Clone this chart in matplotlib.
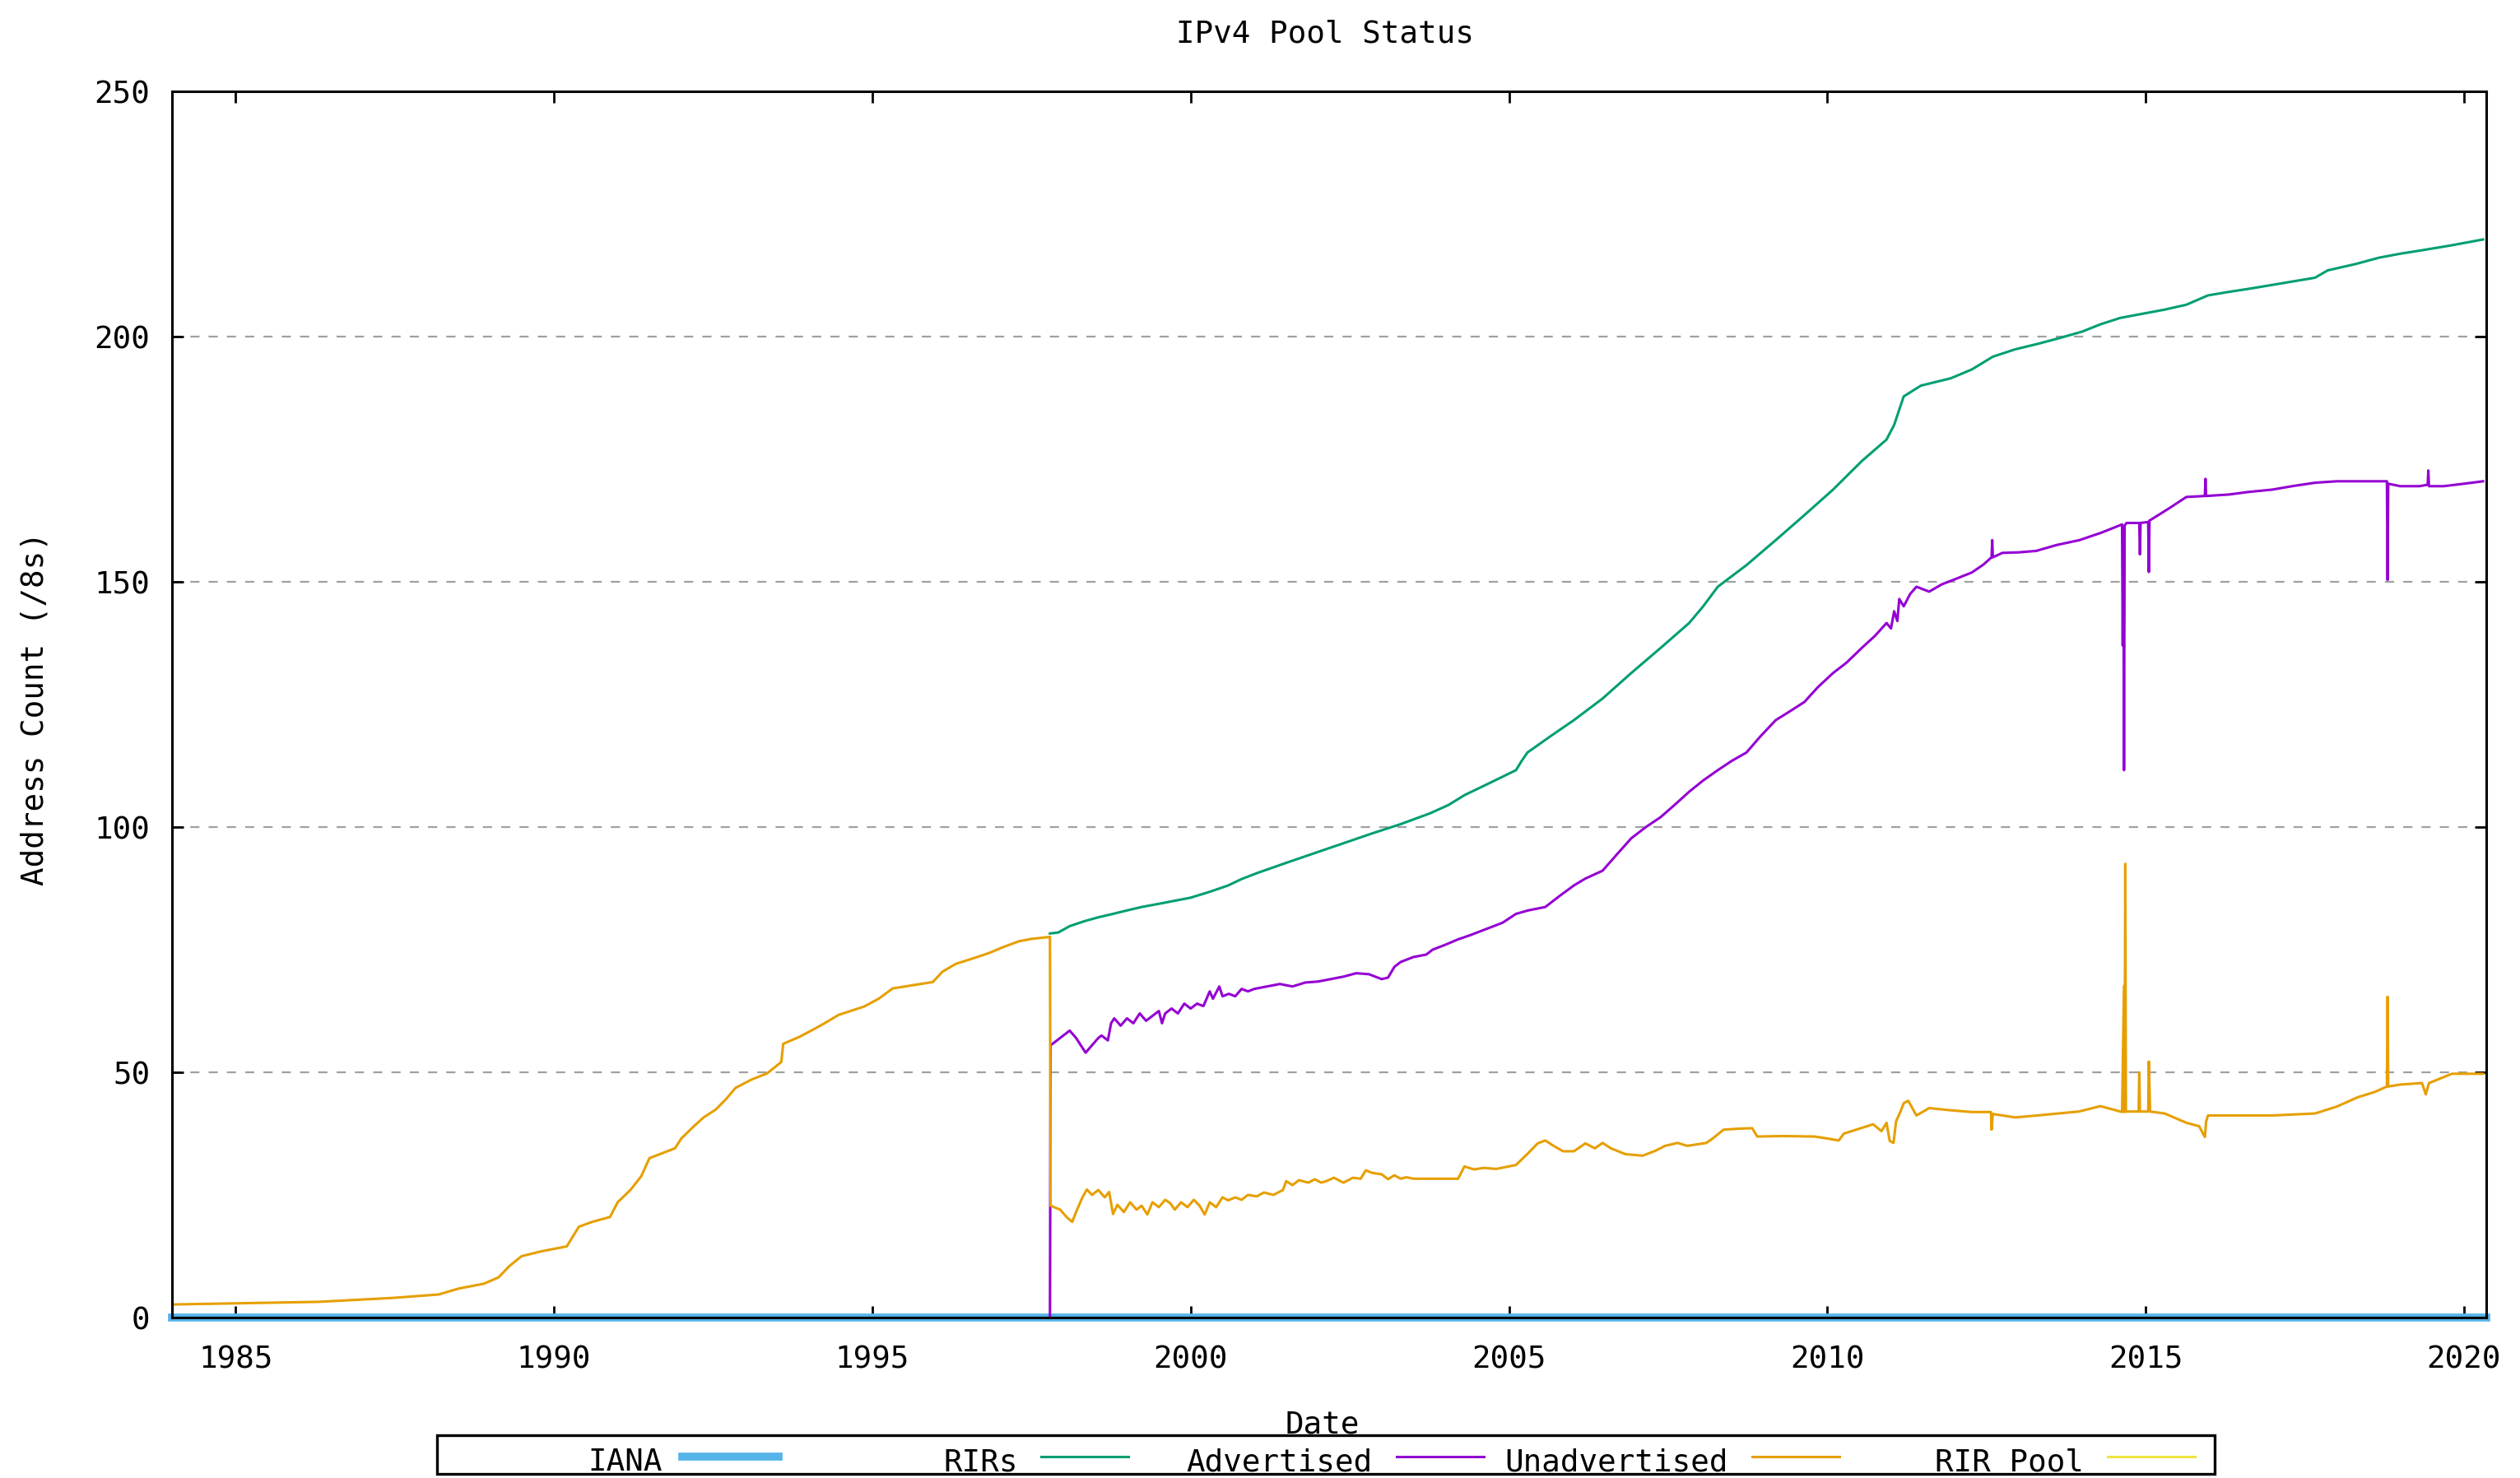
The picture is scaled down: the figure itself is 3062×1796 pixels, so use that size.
import matplotlib
matplotlib.use("Agg")
import matplotlib.pyplot as plt
from matplotlib.lines import Line2D
from matplotlib.patches import Rectangle

plt.rcParams['font.family'] = ['DejaVu Sans Mono']

# ---- data (/8 counts by date, decimal years) ----
iana_years = [1984.0, 2020.35]
iana_values = [0, 0]

rir_pool_years = [1984.0, 2020.35]
rir_pool_values = [0, 0]

rirs_years = [1997.79, 1997.92, 1998.1, 1998.33, 1998.55, 1998.78, 1999.0, 1999.23, 1999.6,
              2000.0, 2000.3, 2000.59, 2000.8, 2001.04, 2001.5, 2001.95, 2002.4, 2002.85,
              2003.3, 2003.76, 2004.05, 2004.3, 2004.7, 2005.11, 2005.2, 2005.29, 2005.65,
              2006.02, 2006.47, 2006.92, 2007.38, 2007.83, 2008.05, 2008.28, 2008.73, 2009.19,
              2009.64, 2010.09, 2010.54, 2010.93, 2011.05, 2011.2, 2011.47, 2011.94, 2012.27,
              2012.6, 2012.95, 2013.3, 2013.62, 2014.0, 2014.29, 2014.6, 2014.97, 2015.3,
              2015.64, 2015.98, 2016.3, 2016.65, 2017.2, 2017.66, 2017.86, 2018.3, 2018.67,
              2019.0, 2019.34, 2019.8, 2020.3]
rirs_values = [78.3, 78.5, 79.8, 80.8, 81.6, 82.3, 83.0, 83.7, 84.6,
               85.6, 86.8, 88.1, 89.4, 90.6, 92.7, 94.7, 96.7, 98.7,
               100.6, 102.8, 104.5, 106.5, 109.0, 111.6, 113.5, 115.2, 118.5,
               121.8, 126.2, 131.4, 136.5, 141.6, 145.0, 149.0, 153.4, 158.5,
               163.6, 168.8, 174.6, 179.0, 182.0, 187.8, 190.0, 191.5, 193.3,
               195.9, 197.4, 198.5, 199.6, 201.0, 202.5, 203.8, 204.7, 205.5,
               206.5, 208.4, 209.1, 209.8, 211.0, 212.0, 213.5, 214.8, 216.1,
               216.9, 217.6, 218.6, 219.8]

adv_years = [1997.79, 1997.80, 1997.9, 1998.0, 1998.1, 1998.2, 1998.3, 1998.35, 1998.45,
             1998.55, 1998.6, 1998.7, 1998.75, 1998.8, 1998.9, 1999.0, 1999.1, 1999.2,
             1999.3, 1999.4, 1999.5, 1999.55, 1999.6, 1999.7, 1999.8, 1999.9, 2000.0,
             2000.1, 2000.2, 2000.3, 2000.35, 2000.45, 2000.5, 2000.6, 2000.7, 2000.8,
             2000.9, 2001.0, 2001.2, 2001.4, 2001.6, 2001.8, 2002.0, 2002.2, 2002.4,
             2002.6, 2002.8, 2003.0, 2003.1, 2003.2, 2003.3, 2003.5, 2003.7, 2003.8,
             2004.0, 2004.2, 2004.4, 2004.66, 2004.9, 2005.11, 2005.3, 2005.57, 2005.8,
             2006.02, 2006.2, 2006.47, 2006.7, 2006.92, 2007.15, 2007.38, 2007.6, 2007.83,
             2008.05, 2008.28, 2008.5, 2008.73, 2008.95, 2009.19, 2009.4, 2009.64, 2009.85,
             2010.09, 2010.3, 2010.54, 2010.75, 2010.93, 2011.0, 2011.05, 2011.1, 2011.13,
             2011.2, 2011.3, 2011.4, 2011.6, 2011.8, 2012.0, 2012.27, 2012.45, 2012.58,
             2012.59, 2012.6, 2012.75, 2013.0, 2013.28, 2013.6, 2013.96, 2014.3, 2014.63,
             2014.64, 2014.65, 2014.66, 2014.67, 2014.7, 2014.9, 2014.91, 2014.92, 2015.04,
             2015.05, 2015.06, 2015.1, 2015.37, 2015.64, 2015.93, 2015.94, 2015.95, 2016.31,
             2016.6, 2016.99, 2017.3, 2017.66, 2018.0, 2018.33, 2018.79, 2018.8, 2018.81,
             2019.0, 2019.3, 2019.43, 2019.44, 2019.45, 2019.68, 2020.0, 2020.3]
adv_values = [0, 55.5, 56.5, 57.5, 58.5, 57.0, 55.0, 54.0, 55.5,
              57.0, 57.5, 56.5, 60.0, 61.0, 59.5, 61.0, 60.0, 62.0,
              60.5, 61.5, 62.5, 60.0, 62.0, 63.0, 62.0, 64.0, 63.0,
              64.0, 63.5, 66.5, 65.0, 67.5, 65.5, 66.0, 65.5, 67.0,
              66.5, 67.0, 67.5, 68.0, 67.5, 68.3, 68.5, 69.0, 69.5,
              70.2, 70.0, 69.0, 69.3, 71.5, 72.5, 73.5, 74.0, 75.0,
              76.0, 77.1, 78.0, 79.3, 80.5, 82.3, 83.0, 83.7, 86.0,
              88.1, 89.5, 91.1, 94.5, 97.7, 100.0, 102.0, 104.5, 107.2,
              109.5, 111.6, 113.5, 115.2, 118.5, 121.8, 123.5, 125.5, 128.5,
              131.4, 133.5, 136.5, 139.0, 141.6, 140.5, 144.0, 142.0, 146.5,
              145.0, 147.5, 149.0, 148.0, 149.5, 150.5, 151.9, 153.5, 155.0,
              158.5, 155.0, 155.9, 156.0, 156.3, 157.5, 158.5, 160.0, 161.7,
              137.0, 161.0, 111.6, 161.5, 162.0, 162.0, 155.6, 162.0, 162.2,
              152.0, 162.5, 162.8, 165.0, 167.3, 167.5, 171.0, 167.5, 167.8,
              168.3, 168.8, 169.5, 170.2, 170.5, 170.5, 170.5, 150.4, 170.0,
              169.5, 169.5, 169.8, 172.7, 169.5, 169.5, 170.0, 170.5]

unadv_years = [1984.0, 1986.3, 1987.47, 1988.19, 1988.5, 1988.9, 1989.13, 1989.3, 1989.49,
               1989.8, 1990.2, 1990.39, 1990.6, 1990.88, 1991.0, 1991.2, 1991.37, 1991.5,
               1991.7, 1991.9, 1992.0, 1992.18, 1992.35, 1992.54, 1992.7, 1992.85, 1993.1,
               1993.35, 1993.57, 1993.6, 1993.85, 1994.07, 1994.25, 1994.47, 1994.87, 1995.1,
               1995.32, 1995.95, 1996.1, 1996.31, 1996.6, 1996.85, 1997.05, 1997.3, 1997.5,
               1997.79,
               1997.8, 1997.95, 1998.05, 1998.14, 1998.2, 1998.3, 1998.37, 1998.45, 1998.55,
               1998.65, 1998.72, 1998.78, 1998.85, 1998.95, 1999.05, 1999.15, 1999.23, 1999.32,
               1999.4, 1999.5, 1999.6, 1999.68, 1999.75, 1999.85, 1999.95, 2000.05, 2000.14,
               2000.22, 2000.3, 2000.4, 2000.5, 2000.59, 2000.7, 2000.8, 2000.9, 2001.04,
               2001.15, 2001.3, 2001.45, 2001.5, 2001.6, 2001.7, 2001.85, 2001.95, 2002.05,
               2002.13, 2002.25, 2002.4, 2002.55, 2002.67, 2002.75, 2002.85, 2003.0, 2003.1,
               2003.2, 2003.3, 2003.39, 2003.5, 2004.2, 2004.3, 2004.45, 2004.6, 2004.8,
               2005.11, 2005.3, 2005.45, 2005.57, 2005.7, 2005.85, 2006.02, 2006.2, 2006.35,
               2006.47, 2006.6, 2006.83, 2007.1, 2007.3, 2007.45, 2007.65, 2007.8, 2008.1,
               2008.2, 2008.37, 2008.6, 2008.82, 2008.9, 2009.3, 2009.8, 2010.0, 2010.18,
               2010.26, 2010.5, 2010.72, 2010.85, 2010.93, 2010.98, 2011.04, 2011.08, 2011.15,
               2011.2, 2011.27, 2011.4, 2011.6, 2011.9, 2012.27, 2012.57, 2012.58, 2012.6,
               2012.95, 2013.3, 2013.62, 2013.95, 2014.29, 2014.63, 2014.66, 2014.67, 2014.68,
               2014.69, 2014.89, 2014.9, 2014.91, 2015.04, 2015.05, 2015.07, 2015.3, 2015.64,
               2015.84, 2015.93, 2015.95, 2015.98, 2016.5, 2016.99, 2017.66, 2018.0, 2018.33,
               2018.6, 2018.79, 2018.8, 2018.81, 2019.0, 2019.34, 2019.4, 2019.45, 2019.81,
               2020.3]
unadv_values = [2.66, 3.2, 4.0, 4.7, 5.9, 6.9, 8.2, 10.5, 12.5,
                13.5, 14.5, 18.5, 19.5, 20.5, 23.5, 26.0, 28.8, 32.5,
                33.5, 34.5, 36.5, 38.8, 40.8, 42.4, 44.5, 46.8, 48.5,
                49.8, 52.1, 55.8, 57.2, 58.7, 60.0, 61.7, 63.4, 65.0,
                67.1, 68.4, 70.5, 72.1, 73.3, 74.4, 75.5, 76.7, 77.2,
                77.6,
                22.8, 22.0, 20.5, 19.5, 21.5, 24.5, 26.1, 25.0, 26.0,
                24.5, 25.6, 21.1, 23.0, 21.5, 23.5, 22.0, 22.8, 21.0,
                23.5, 22.5, 24.0, 23.3, 22.0, 23.5, 22.5, 24.0, 22.8,
                21.0, 23.5, 22.5, 24.5, 23.9, 24.5, 24.0, 25.0, 24.7,
                25.5, 25.0, 26.0, 27.8, 27.0, 28.0, 27.5, 28.2, 27.5,
                27.8, 28.5, 27.5, 28.5, 28.3, 30.0, 29.5, 29.2, 28.2,
                29.0, 28.3, 28.6, 28.3, 28.3, 30.8, 30.2, 30.5, 30.3,
                31.1, 33.5, 35.5, 36.1, 35.0, 33.9, 33.9, 35.5, 34.5,
                35.6, 34.5, 33.3, 33.0, 34.0, 35.0, 35.6, 35.0, 35.6,
                36.5, 38.3, 38.5, 38.6, 36.9, 37.0, 36.9, 36.5, 36.1,
                37.5, 38.5, 39.4, 38.0, 39.7, 36.0, 35.6, 40.0, 42.0,
                43.7, 44.2, 41.2, 42.7, 42.3, 41.9, 41.9, 38.3, 41.5,
                40.8, 41.2, 41.6, 42.0, 43.1, 41.9, 67.6, 41.9, 92.5,
                42.0, 42.0, 50.0, 42.0, 42.0, 52.2, 42.0, 41.6, 39.7,
                39.0, 36.8, 40.0, 41.2, 41.2, 41.2, 41.6, 43.0, 44.9,
                46.0, 47.1, 65.4, 47.1, 47.5, 47.8, 45.5, 47.8, 49.7,
                49.7]

x_ticks = [1985, 1990, 1995, 2000, 2005, 2010, 2015, 2020]
y_ticks = [0, 50, 100, 150, 200, 250]

C_IANA = '#56b4e9'
C_RIRS = '#009e73'
C_ADV = '#9400d3'
C_UNADV = '#e69f00'
C_POOL = '#f0e442'

W, H = 3062, 1796
fig = plt.figure(figsize=(W / 100, H / 100), dpi=100)
fig.patch.set_facecolor('white')
ax = fig.add_axes([209 / W, 1 - 1601 / H, (3021 - 209) / W, (1601 - 111) / H])

FS = 27
lw = 2.2

ax.plot(rir_pool_years, rir_pool_values, color=C_POOL, lw=lw, zorder=1.8, clip_on=False)
ax.plot(iana_years, iana_values, color=C_IANA, lw=7, zorder=1.9, clip_on=False)
ax.plot(rirs_years, rirs_values, color=C_RIRS, lw=lw, zorder=2)
ax.plot(adv_years, adv_values, color=C_ADV, lw=lw, zorder=2.1)
ax.plot(unadv_years, unadv_values, color=C_UNADV, lw=lw, zorder=2.2)

ax.set_xlim(1984.0, 2020.35)
ax.set_ylim(0, 250)
ax.set_xticks(x_ticks)
ax.set_yticks(y_ticks)
ax.tick_params(axis='both', direction='in', length=10, width=2, labelsize=FS,
               top=True, right=True)
ax.tick_params(axis='x', pad=24)
ax.tick_params(axis='y', pad=19)
for s in ax.spines.values():
    s.set_linewidth(2.2)
    s.set_color('black')
    s.set_zorder(3)

for v in y_ticks[1:-1]:
    ax.axhline(v, color='#a0a0a0', lw=1.6, linestyle=(0, (5, 5)), zorder=1)

fig.text(1610 / W, 1 - 52 / H, 'IPv4 Pool Status', ha='center', va='baseline', fontsize=FS)
fig.text(43 / W, 1 - 861 / H, 'Address Count (/8s)', ha='center', va='center',
         rotation=90, fontsize=FS)
fig.text(1607 / W, 1 - 1741 / H, 'Date', ha='center', va='baseline', fontsize=FS)

# legend strip along the bottom
fig.add_artist(Rectangle((531 / W, 1 - 1791 / H), (2691 - 531) / W, (1791 - 1744) / H,
                         transform=fig.transFigure, fill=False, edgecolor='black', lw=2.4))
entries = [('IANA', C_IANA, 7, 805, 829, 946),
           ('RIRs', C_RIRS, lw, 1237, 1265, 1371),
           ('Advertised', C_ADV, lw, 1668, 1697, 1803),
           ('Unadvertised', C_UNADV, lw, 2100, 2129, 2235),
           ('RIR Pool', C_POOL, lw, 2532, 2561, 2667)]
ly = 1 - 1770 / H
for label, col, w, tx, x0, x1 in entries:
    fig.text(tx / W, 1 - 1787 / H, label, ha='right', va='baseline', fontsize=FS)
    fig.add_artist(Line2D([x0 / W, x1 / W], [ly, ly], transform=fig.transFigure,
                          color=col, lw=w))

fig.savefig('out.png', dpi=100, facecolor='white')
